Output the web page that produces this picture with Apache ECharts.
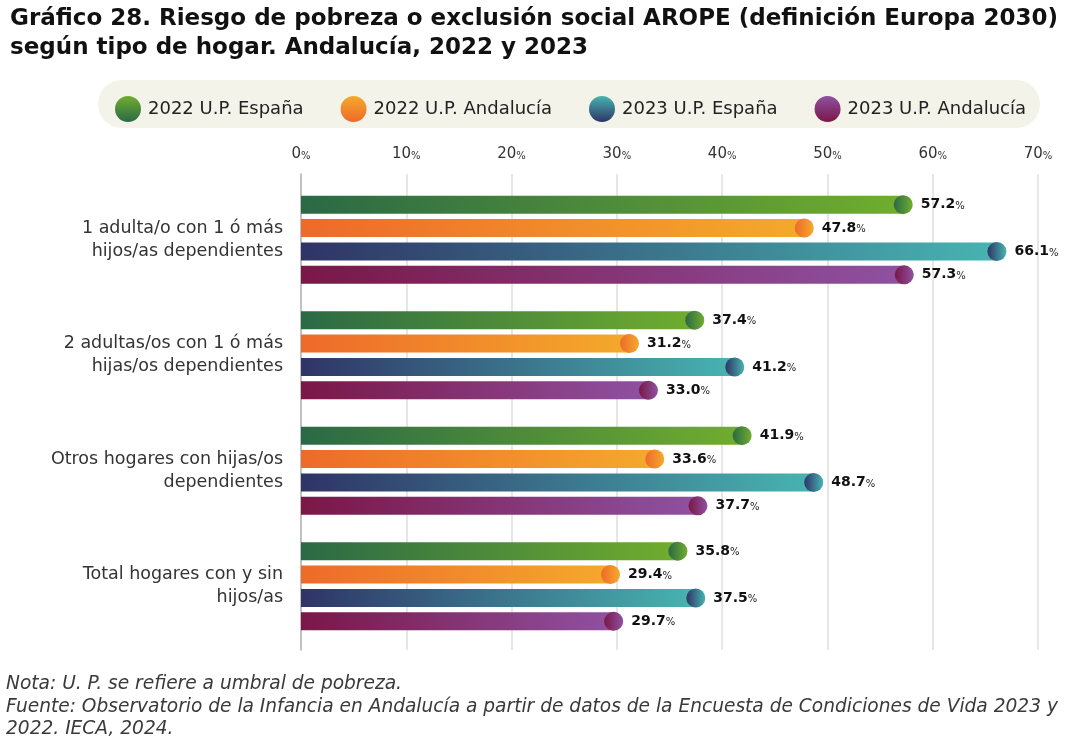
<!DOCTYPE html>
<html><head><meta charset="utf-8">
<script src="https://cdn.jsdelivr.net/npm/echarts@6/dist/echarts.min.js"></script>
<style>html,body{margin:0;padding:0;background:#fff}#c{width:1080px;height:740px}</style>
</head><body><div id="c"></div>
<script>
const categories = ['1 adulta/o con 1 ó más\nhijos/as dependientes','2 adultas/os con 1 ó más\nhijas/os dependientes','Otros hogares con hijas/os\ndependientes','Total hogares con y sin\nhijos/as'];
const seriesNames = ['2022 U.P. España','2022 U.P. Andalucía','2023 U.P. España','2023 U.P. Andalucía'];
const esp2022 = [57.2, 37.4, 41.9, 35.8];
const and2022 = [47.8, 31.2, 33.6, 29.4];
const esp2023 = [66.1, 41.2, 48.7, 37.5];
const and2023 = [57.3, 33.0, 37.7, 29.7];
const xTicks = [0,10,20,30,40,50,60,70];

const values = [esp2022, and2022, esp2023, and2023];
const palette = [
  ['#2b6946','#70ad2e'],
  ['#ee6a2a','#f4aa2b'],
  ['#2f3466','#47b4b1'],
  ['#7a1747','#8f51a1']
];
const offsets = [-35.1,-11.7,11.7,35.1];
const FONT = 'DejaVu Sans';
function hgrad(c){return new echarts.graphic.LinearGradient(0,0,1,0,[{offset:0,color:c[0]},{offset:1,color:c[1]}]);}
function vgrad(c){return new echarts.graphic.LinearGradient(0,0,0,1,[{offset:0,color:c[1]},{offset:1,color:c[0]}]);}
function cgrad(c){return new echarts.graphic.LinearGradient(0,0,1,0,[{offset:0,color:c[0]},{offset:1,color:c[1]}]);}

const series = [];
values.forEach((v,i)=>{
  series.push({
    name: seriesNames[i], type:'bar', xAxisIndex:1, yAxisIndex:1,
    data: v, barWidth:18, barGap:'30%',
    itemStyle:{color:hgrad(palette[i])}, z:2
  });
});
values.forEach((v,i)=>{
  series.push({
    name: seriesNames[i]+'_end', type:'scatter', xAxisIndex:1, yAxisIndex:1,
    data: v.map((x,j)=>[x,j]), symbol:'circle', symbolSize:19, symbolOffset:[0,offsets[i]],
    itemStyle:{color:cgrad(palette[i]), opacity:1}, z:3,
    label:{show:true, position:'right', distance:8,
      formatter:p=>'{v|'+p.value[0].toFixed(1)+'}{p|%}',
      rich:{v:{fontFamily:FONT,fontSize:14,fontWeight:'bold',color:'#111'},p:{fontFamily:FONT,fontSize:10,color:'#222',padding:[3,0,0,0]}}},
    emphasis:{disabled:true}, silent:true
  });
});

const chart = echarts.init(document.getElementById('c'), null, {renderer:'canvas'});
chart.setOption({
  animation:false,
  backgroundColor:'#fff',
  title:{text:'Gráfico 28. Riesgo de pobreza o exclusión social AROPE (definición Europa 2030)\nsegún tipo de hogar. Andalucía, 2022 y 2023', left:5, top:0,
    textStyle:{fontFamily:FONT,fontSize:23,fontWeight:'bold',color:'#111',lineHeight:29}},
  graphic:[
    {type:'rect', shape:{x:98,y:80,width:942,height:48,r:24}, style:{fill:'#f3f3ea'}, z:-1},
    {type:'text', left:6, top:673, style:{text:'Nota: U. P. se refiere a umbral de pobreza.\nFuente: Observatorio de la Infancia en Andalucía a partir de datos de la Encuesta de Condiciones de Vida 2023 y\n2022. IECA, 2024.', font:'oblique 18.6px "DejaVu Sans"', fill:'#3a3a3a', lineHeight:22.5}}
  ],
  legend:{
    data: seriesNames.map((n,i)=>({name:n, icon:'circle', itemStyle:{color:vgrad(palette[i])}})),
    left:110, top:91, itemWidth:26, itemHeight:26, itemGap:37,
    textStyle:{fontFamily:FONT,fontSize:18,color:'#222',padding:[0,0,0,2]},
    selectedMode:false
  },
  grid:[
    {left:301, right:42, top:174, bottom:90},
    {left:301, right:42, top:182, bottom:96}
  ],
  xAxis:[
    {type:'value', gridIndex:0, min:0, max:70, interval:10, position:'top',
     axisLine:{show:false}, axisTick:{show:false},
     splitLine:{lineStyle:{color:'#dedede',width:1.5}},
     axisLabel:{margin:12, formatter:v=>'{n|'+v+'}{p|%}',
       rich:{n:{fontFamily:FONT,fontSize:15,color:'#333'},p:{fontFamily:FONT,fontSize:10,color:'#333',padding:[3,0,0,0]}}}},
    {type:'value', gridIndex:1, min:0, max:70, interval:10, show:false, splitLine:{show:false}}
  ],
  yAxis:[
    {type:'value', gridIndex:0, min:0, max:1, axisLine:{show:true,lineStyle:{color:'#b5b5b5',width:1.5}}, axisLabel:{show:false}, axisTick:{show:false}, splitLine:{show:false}},
    {type:'category', gridIndex:1, data:categories, inverse:true,
     axisLine:{show:false}, axisTick:{show:false},
     axisLabel:{margin:18, formatter:v=>v.split('\n').map(s=>'{a|'+s+'}').join('\n'),
       rich:{a:{fontFamily:FONT, fontSize:17.5, color:'#333', lineHeight:23, align:'right'}}}}
  ],
  series: series
});
</script></body></html>
